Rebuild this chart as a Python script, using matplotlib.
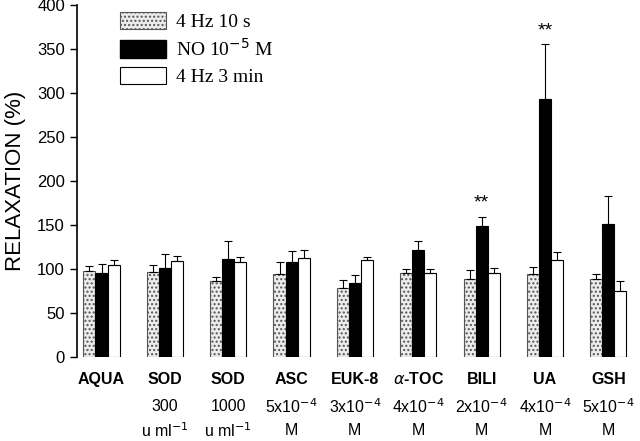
import numpy as np
import matplotlib
matplotlib.use("Agg")
import matplotlib.pyplot as plt
from matplotlib.patches import Patch

plt.rcParams["font.family"] = ["Liberation Sans", "DejaVu Sans"]

# group labels (three text rows under each group)
groups = ["AQUA", "SOD", "SOD", "ASC", "EUK-8", r"$\alpha$-TOC", "BILI", "UA", "GSH"]
conc = ["", "300", "1000", r"5x10$^{-4}$", r"3x10$^{-4}$", r"4x10$^{-4}$",
        r"2x10$^{-4}$", r"4x10$^{-4}$", r"5x10$^{-4}$"]
units = ["", r"u ml$^{-1}$", r"u ml$^{-1}$", "M", "M", "M", "M", "M", "M"]

series = ["4 Hz 10 s", r"NO 10$^{-5}$ M", "4 Hz 3 min"]
hz10s = [98, 97, 87, 94, 79, 96, 89, 94, 89]
hz10s_err = [5, 8, 4, 14, 9, 4, 10, 8, 6]
no = [96, 101, 112, 108, 84, 122, 149, 293, 151]
no_err = [10, 16, 20, 13, 9, 10, 10, 62, 32]
hz3min = [105, 109, 108, 113, 110, 96, 96, 110, 75]
hz3min_err = [5, 6, 6, 9, 4, 4, 5, 10, 12]
stars = ["", "", "", "", "", "", "**", "**", ""]

fig = plt.figure(figsize=(6.4, 4.41), dpi=100)
ax = fig.add_axes([0.12, 0.19, 0.875, 0.799])

x = np.arange(len(groups))
w = 0.19
zero = np.zeros(len(groups))
ekw = dict(ecolor="black", elinewidth=0.8, capsize=3, capthick=0.8)

ax.bar(x - w, hz10s, w, color="#ececec", edgecolor="#555555", hatch="....",
       linewidth=0.8, yerr=[zero, hz10s_err], error_kw=ekw, zorder=2)
ax.bar(x, no, w, color="black", edgecolor="black", linewidth=0.8,
       yerr=[zero, no_err], error_kw=ekw, zorder=2)
ax.bar(x + w, hz3min, w, color="white", edgecolor="black", linewidth=0.8,
       yerr=[zero, hz3min_err], error_kw=ekw, zorder=2)

for i, s in enumerate(stars):
    if s:
        ax.text(x[i], no[i] + no_err[i] + 6, s, ha="center", va="bottom",
                fontsize=14)

ax.set_xlim(-0.39, 8.45)
ax.set_ylim(0, 400)
ax.set_yticks(np.arange(0, 401, 50))
ax.tick_params(axis="y", labelsize=12, length=5, width=1)
ax.set_xticks([])
for sp in ["top", "right", "bottom"]:
    ax.spines[sp].set_visible(False)
ax.spines["left"].set_linewidth(1.2)
ax.set_ylabel("RELAXATION (%)", fontsize=16, labelpad=8)

tr = ax.get_xaxis_transform()
for i in range(len(groups)):
    ax.text(x[i], -0.062, groups[i], transform=tr, ha="center", va="center",
            fontsize=11.5, fontweight="bold")
    ax.text(x[i], -0.14, conc[i], transform=tr, ha="center", va="center",
            fontsize=11.5)
    ax.text(x[i], -0.208, units[i], transform=tr, ha="center", va="center",
            fontsize=11.5)

handles = [
    Patch(facecolor="#ececec", edgecolor="#555555", hatch="....", linewidth=0.8),
    Patch(facecolor="black", edgecolor="black"),
    Patch(facecolor="white", edgecolor="black", linewidth=0.8),
]
ax.legend(handles, series, loc="upper left", bbox_to_anchor=(0.045, 1.03),
          frameon=False, prop={"family": "Liberation Serif", "size": 14},
          handlelength=2.4, handleheight=1.0, labelspacing=0.35,
          handletextpad=0.5)

fig.savefig("out.png", dpi=100)
